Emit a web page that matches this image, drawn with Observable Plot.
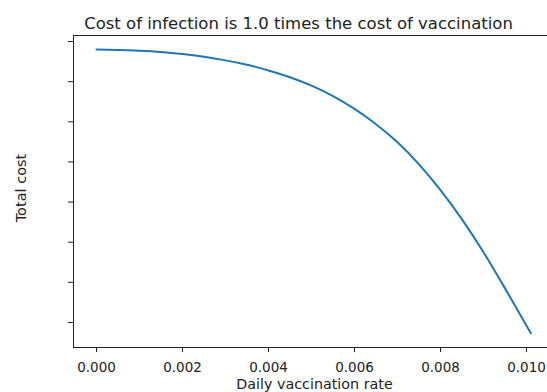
<!DOCTYPE html>
<html>
<head>
<meta charset="utf-8">
<script src="https://cdn.jsdelivr.net/npm/d3@7"></script>
<script src="https://cdn.jsdelivr.net/npm/@observablehq/plot@0.6"></script>
<style>
  html, body { margin: 0; padding: 0; background: #fff; }
  #chart svg { display: block; }
</style>
</head>
<body>
<div id="chart"></div>
<script>
// Data (y units are arbitrary: y ticks are unlabeled)
const rates = [0, 0.0005, 0.0010, 0.0015, 0.0020, 0.0025, 0.0030, 0.0035, 0.0040, 0.0045,
               0.0050, 0.0055, 0.0060, 0.0065, 0.0070, 0.0075, 0.0080, 0.0085, 0.0090,
               0.0095, 0.0100, 0.0101];
const costs = [6.80, 6.79, 6.77, 6.74, 6.69, 6.62, 6.53, 6.42, 6.28, 6.11,
               5.90, 5.64, 5.32, 4.94, 4.49, 3.94, 3.30, 2.57, 1.75,
               0.85, -0.08, -0.27];
const xTicks = [0, 0.002, 0.004, 0.006, 0.008, 0.010];
const yTicks = [0, 1, 2, 3, 4, 5, 6, 7];
const titleText = "Cost of infection is 1.0 times the cost of vaccination";
const xLabel = "Daily vaccination rate";
const yLabel = "Total cost";

const xDomain = [-0.000535, 0.010488];
const yDomain = [-0.623, 7.15];

const data = rates.map((r, i) => ({rate: r, cost: costs[i]}));

const chart = Plot.plot({
  width: 547,
  height: 392,
  marginLeft: 73,
  marginRight: 0,
  marginTop: 35,
  marginBottom: 45,
  style: {fontFamily: "DejaVu Sans", fontSize: "13.5px", color: "#222", background: "#fff"},
  x: {domain: xDomain, ticks: xTicks, tickFormat: d3.format(".3f"), tickSize: 5, tickPadding: 10, label: null},
  y: {domain: yDomain, ticks: yTicks, tickFormat: () => "", tickSize: 5, label: null},
  marks: [
    Plot.ruleY([yDomain[0], yDomain[1]], {stroke: "#222", strokeWidth: 1}),
    Plot.ruleX([xDomain[0]], {stroke: "#222", strokeWidth: 1}),
    Plot.line(data, {x: "rate", y: "cost", stroke: "#1f77b4", strokeWidth: 2, curve: "natural"}),
    Plot.text([titleText], {frameAnchor: "top", dx: -12, dy: -7, lineAnchor: "bottom", fontSize: 16.5, fill: "#222"}),
    Plot.text([xLabel], {frameAnchor: "bottom", dx: 4, dy: 41, lineAnchor: "bottom", fontSize: 14.3, fill: "#222"}),
    Plot.text([yLabel], {frameAnchor: "left", textAnchor: "middle", dx: -52, dy: -3.5, rotate: -90, fontSize: 14.5, fill: "#222"})
  ]
});
document.getElementById("chart").appendChild(chart);
</script>
</body>
</html>
